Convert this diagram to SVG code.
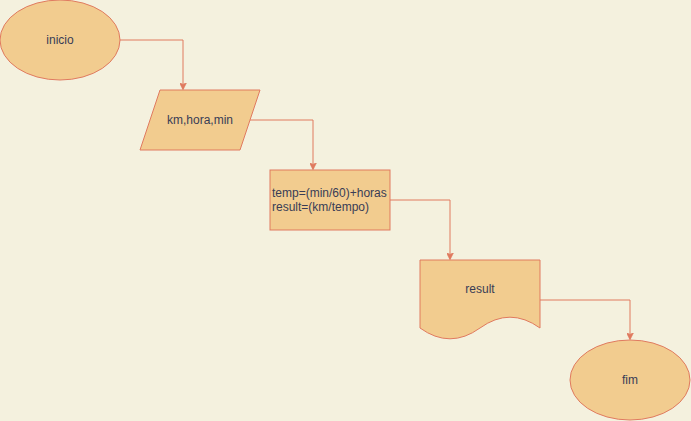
<svg xmlns="http://www.w3.org/2000/svg" width="691" height="421" viewBox="0 0 691 421">
<style>
.s{fill:#F2CC8F;stroke:#E07A5F;stroke-width:1}
.c{fill:none;stroke:#E07A5F;stroke-width:1}
text{font-family:"Liberation Sans",Arial,sans-serif;font-size:12px;fill:#393C56}
.m{text-anchor:middle;dominant-baseline:central}
</style>
<defs>
<marker id="a" viewBox="0 0 10 10" refX="9" refY="5" markerWidth="7" markerHeight="7" markerUnits="userSpaceOnUse" orient="auto">
<path d="M0,0 L10,5 L0,10 L2.5,5 Z" fill="#E07A5F" stroke="#E07A5F"/>
</marker>
</defs>
<rect width="691" height="421" fill="#F4F1DE"/>
<g id="connectors">
<path class="c" d="M120,40 H183 V89" marker-end="url(#a)"/>
<path class="c" d="M250,120 H313 V169" marker-end="url(#a)"/>
<path class="c" d="M390,200 H450 V259" marker-end="url(#a)"/>
<path class="c" d="M540,300 H630 V339" marker-end="url(#a)"/>
</g>
<g id="inicio">
<ellipse class="s" cx="60" cy="40" rx="60" ry="40"/>
<text class="m" x="60" y="40">inicio</text>
</g>
<g id="entrada">
<path class="s" d="M160,90 H260 L240,150 H140 Z"/>
<text class="m" x="200" y="120">km,hora,min</text>
</g>
<g id="processo">
<rect class="s" x="270" y="170" width="120" height="60"/>
<text x="272" y="197">temp=(min/60)+horas</text>
<text x="272" y="211">result=(km/tempo)</text>
</g>
<g id="saida">
<path class="s" d="M420,260 H540 V328 Q510,306.4 480,328 Q450,349.6 420,328 Z"/>
<text class="m" x="480" y="289">result</text>
</g>
<g id="fim">
<ellipse class="s" cx="630" cy="380" rx="60" ry="40"/>
<text class="m" x="630" y="380">fim</text>
</g>
</svg>
